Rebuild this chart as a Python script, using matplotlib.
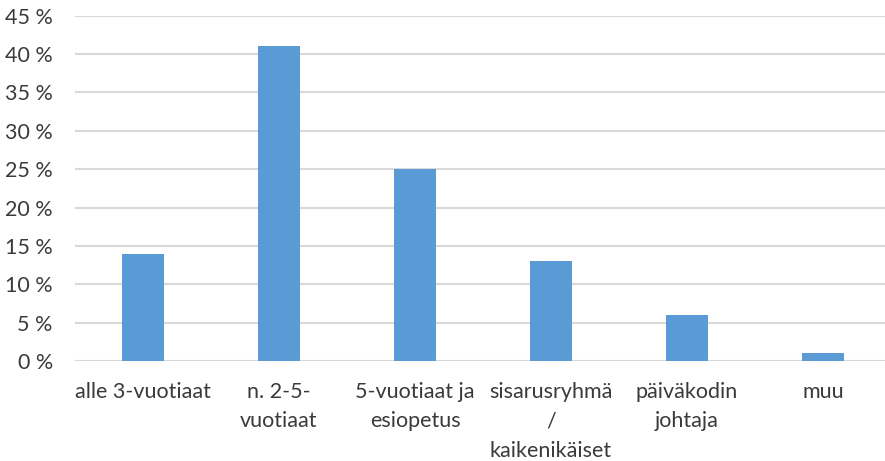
import matplotlib
matplotlib.use("Agg")
import matplotlib.pyplot as plt
from matplotlib.ticker import FuncFormatter

categories = ["alle 3-vuotiaat", "n. 2-5-\nvuotiaat", "5-vuotiaat ja\nesiopetus",
              "sisarusryhmä\n/\nkaikenikäiset", "päiväkodin\njohtaja", "muu"]
values = [14, 41, 25, 13, 6, 1]
yticks = [0, 5, 10, 15, 20, 25, 30, 35, 40, 45]

plt.rcParams['font.family'] = ['Lato', 'DejaVu Sans']
text_color = "#3a3a3a"

fig = plt.figure(figsize=(8.85, 4.61), dpi=100)
left = 75 / 885
right = 891 / 885
bottom = 1 - 361 / 461
top = 1 - 15.7 / 461
ax = fig.add_axes([left, bottom, right - left, top - bottom])

x = list(range(len(categories)))
ax.bar(x, values, width=0.315, color="#5B9BD5", zorder=3)

ax.set_xlim(-0.5, len(categories) - 0.5)
ax.set_ylim(0, 45)
ax.set_yticks(yticks)
ax.yaxis.set_major_formatter(FuncFormatter(lambda v, p: f"{int(v)} %"))
ax.grid(axis="y", color="#D9D9D9", linewidth=1.5, zorder=0)
ax.set_axisbelow(True)

for s in ax.spines.values():
    s.set_visible(False)

ax.set_xticks(x)
ax.set_xticklabels(categories, fontsize=15.5, color=text_color, linespacing=1.6)
ax.tick_params(axis="x", length=0, pad=15)
ax.tick_params(axis="y", length=0, pad=16, labelsize=15.5, labelcolor=text_color)

fig.savefig("out.png", dpi=100)
